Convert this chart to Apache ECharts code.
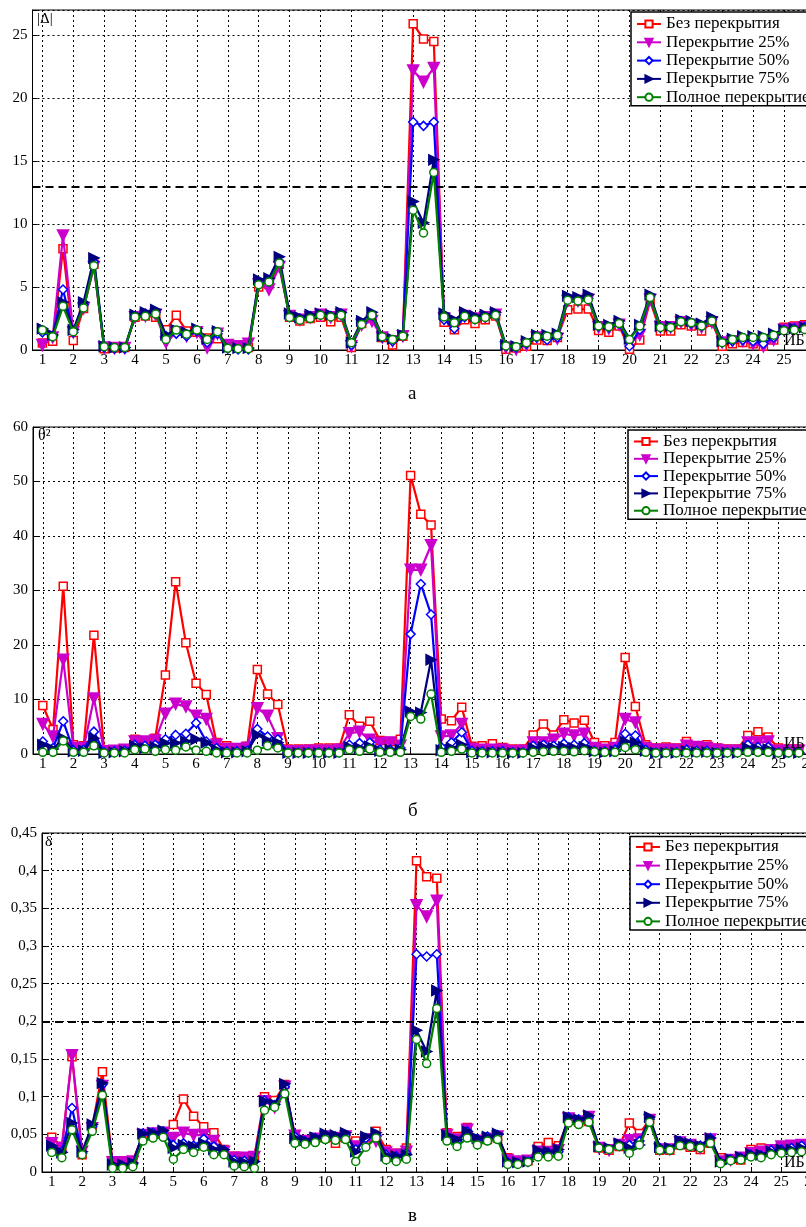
<!DOCTYPE html>
<html>
<head>
<meta charset="utf-8">
<script src="https://cdn.jsdelivr.net/npm/echarts@6/dist/echarts.min.js"></script>
<style>
html,body{margin:0;padding:0;background:#fff;}
#c{width:806px;height:1227px;}
</style>
</head>
<body>
<div id="c"></div>
<script>
// ---- categories (ИБ subdivisions) ----
const ibX = [1,1.333,1.667,2,2.333,2.667,3,3.333,3.667,4,4.333,4.667,5,5.333,5.667,
  6,6.333,6.667,7,7.333,7.667,8,8.333,8.667,9,9.333,9.667,10,10.333,10.667,
  11,11.333,11.667,12,12.333,12.667,13,13.333,13.667,14,14.333,14.667,15,15.333,15.667,
  16,16.333,16.667,17,17.333,17.667,18,18.333,18.667,19,19.333,19.667,20,20.333,20.667,
  21,21.333,21.667,22,22.333,22.667,23,23.333,23.667,24,24.333,24.667,25,25.333,25.667];
const ibTicks = [1,2,3,4,5,6,7,8,9,10,11,12,13,14,15,16,17,18,19,20,21,22,23,24,25,26];
const seriesNames = ['Без перекрытия','Перекрытие 25%','Перекрытие 50%','Перекрытие 75%','Полное перекрытие'];

// ---- panel а: |Δ| ----
const aRed = [0.55,0.7,8.05,0.75,3.3,6.8, 0.1,0.15,0.2,2.6,2.7,2.6, 1.6,2.75,1.5,1.4,0.95,0.9,
  0.35,0.35,0.2,5.0,5.2,6.8, 2.6,2.3,2.5,2.6,2.25,2.6, 0.2,2.1,2.6,1.0,0.4,1.1,
  25.9,24.7,24.5,2.2,1.6,2.4, 2.1,2.4,2.7,0.05,0.15,0.3, 0.8,0.75,1.0,3.2,3.25,3.25,
  1.55,1.4,1.9,0.05,0.8,3.9, 1.5,1.5,2.0,1.9,1.5,2.2, 0.3,0.5,0.6,0.5,0.3,0.8, 1.8,1.9,2.0];
const aMag = [0.4,1.0,9.1,1.4,3.3,6.6, 0.2,0.15,0.15,2.6,2.7,2.8, 0.6,1.4,1.1,1.4,0.2,1.3,
  0.4,0.3,0.5,5.2,4.8,6.6, 2.7,2.4,2.6,2.8,2.6,2.8, 0.3,2.0,2.3,1.0,0.7,1.1,
  22.2,21.3,22.4,2.5,2.0,2.7, 2.5,2.6,2.8,0.2,0.05,0.4, 1.0,0.9,0.9,3.9,3.9,4.0,
  1.8,1.7,2.0,0.5,1.2,4.0, 1.8,1.8,2.2,2.0,1.8,2.2, 0.6,0.7,0.7,0.5,0.3,0.8, 1.6,1.7,1.8];
const aBlue = [1.4,1.1,4.8,1.4,3.6,7.0, 0.2,0.1,0.1,2.7,2.9,3.0, 1.1,1.3,1.1,1.5,0.6,1.3,
  0.1,0.05,0.05,5.3,5.4,7.0, 2.7,2.5,2.7,2.8,2.7,2.9, 0.4,2.1,2.7,1.0,0.7,1.1,
  18.1,17.8,18.1,2.4,1.7,2.6, 2.5,2.6,2.8,0.3,0.2,0.5, 1.0,0.8,1.0,4.0,3.9,4.1,
  1.9,1.8,2.1,0.3,1.6,4.2, 1.8,1.8,2.3,2.1,1.9,2.4, 0.6,0.7,0.8,0.7,0.5,1.0, 1.6,1.7,1.8];
const aNavy = [1.7,1.2,3.8,1.6,3.8,7.3, 0.3,0.2,0.2,2.8,3.0,3.2, 1.2,1.6,1.4,1.7,0.9,1.5,
  0.2,0.15,0.15,5.6,5.7,7.4, 2.9,2.6,2.8,2.9,2.8,3.0, 0.6,2.3,3.0,1.1,0.9,1.2,
  11.8,10.1,15.1,2.9,2.4,3.0, 2.7,2.8,3.0,0.4,0.3,0.7, 1.2,1.2,1.3,4.3,4.2,4.4,
  2.0,2.0,2.3,0.9,2.0,4.4, 1.9,1.9,2.4,2.3,2.1,2.6, 0.7,0.9,1.1,1.1,1.1,1.3, 1.6,1.7,1.8];
const aGreen = [1.58,1.05,3.47,1.45,3.34,6.7, 0.26,0.2,0.2,2.63,2.68,2.85, 0.84,1.58,1.26,1.58,0.84,1.45,
  0.13,0.1,0.1,5.18,5.4,6.9, 2.58,2.37,2.5,2.76,2.63,2.76, 0.58,2.03,2.76,1.05,0.84,1.1,
  11.1,9.3,14.1,2.63,2.16,2.68, 2.42,2.58,2.76,0.32,0.26,0.58, 1.05,1.1,1.18,3.95,3.9,4.0,
  1.9,1.84,2.1,0.84,1.9,4.16, 1.79,1.79,2.24,2.16,1.9,2.3, 0.58,0.84,1.0,1.0,1.0,1.18, 1.53,1.58,1.63];
const aThreshold = 13;

// ---- panel б: θ² ----
const bRed = [8.9,4.5,30.8,1.7,1.5,21.8, 0.8,0.8,0.9,2.7,2.3,2.9, 14.5,31.6,20.4,13.0,10.9,2.1,
  1.5,1.1,1.4,15.5,11.0,9.1, 0.9,0.9,0.9,1.1,1.1,1.1, 7.2,5.1,6.0,2.5,2.3,2.7,
  51.1,44.0,42.0,6.4,6.1,8.6, 1.4,1.5,1.9,1.2,0.9,0.9, 3.5,5.5,3.5,6.3,5.7,6.2,
  2.1,1.5,2.1,17.7,8.7,1.7, 1.1,1.3,1.1,2.3,1.5,1.7, 1.1,0.9,0.9,3.4,4.1,3.1, 1.1,0.9,0.9];
const bMag = [5.5,3.2,17.3,1.1,1.1,10.2, 0.5,0.6,0.8,2.3,2.3,2.5, 7.4,9.2,8.7,7.0,6.4,1.7,
  0.9,0.9,1.1,8.4,7.0,2.9, 0.5,0.5,0.6,0.6,0.6,0.8, 3.8,4.1,2.6,2.0,2.1,1.5,
  33.8,33.8,38.3,3.2,3.4,5.5, 0.9,0.8,0.8,0.8,0.5,0.6, 2.1,2.1,2.6,3.7,3.4,3.7,
  1.1,0.8,1.1,6.4,5.8,1.1, 0.8,0.8,0.8,1.5,1.3,1.1, 0.8,0.6,0.6,2.1,2.1,2.3, 0.6,0.6,0.6];
const bBlue = [2.3,1.1,6.0,0.7,0.8,4.1, 0.3,0.5,0.6,1.7,1.5,1.7, 2.7,3.5,3.7,5.7,2.3,1.1,
  0.5,0.5,0.6,4.6,3.2,2.7, 0.3,0.3,0.3,0.3,0.3,0.3, 1.7,2.0,2.1,0.8,0.8,1.1,
  22.0,31.2,25.6,1.3,2.1,4.0, 0.6,0.5,0.5,0.5,0.3,0.3, 1.5,1.7,1.5,1.9,1.7,2.0,
  0.6,0.5,0.8,3.7,3.4,0.8, 0.3,0.3,0.3,0.8,0.6,0.6, 0.3,0.3,0.3,1.7,1.3,1.3, 0.3,0.3,0.3];
const bNavy = [1.7,0.9,2.9,0.5,0.6,2.9, 0.2,0.3,0.5,1.5,1.1,1.3, 2.0,2.0,2.3,2.7,2.1,0.8,
  0.3,0.3,0.5,3.5,2.5,2.1, 0.2,0.2,0.2,0.2,0.2,0.2, 1.3,1.1,1.4,0.6,0.8,0.8,
  7.8,7.6,17.3,0.7,1.1,1.7, 0.3,0.3,0.3,0.3,0.2,0.2, 1.1,1.3,1.1,1.3,1.1,1.3,
  0.5,0.3,0.5,2.3,2.1,0.6, 0.2,0.2,0.2,0.5,0.4,0.4, 0.2,0.2,0.2,1.1,0.9,0.9, 0.2,0.2,0.2];
const bGreen = [0.3,0.3,2.4,0.3,0.3,1.5, 0.2,0.2,0.2,0.8,0.9,0.5, 0.8,0.7,1.3,0.7,0.5,0.2,
  0.2,0.2,0.2,0.7,1.5,1.1, 0.2,0.2,0.2,0.2,0.2,0.2, 0.8,0.5,0.9,0.3,0.3,0.3,
  6.9,6.4,11.0,0.3,0.5,0.9, 0.2,0.2,0.2,0.2,0.2,0.2, 0.3,0.4,0.5,0.5,0.4,0.6,
  0.4,0.3,0.3,1.2,0.8,0.3, 0.2,0.2,0.2,0.2,0.2,0.2, 0.2,0.2,0.2,0.3,0.3,0.3, 0.2,0.2,0.2];

// ---- panel в: δ ----
const cRed = [0.046,0.034,0.153,0.023,0.060,0.133, 0.014,0.014,0.015,0.049,0.051,0.052,
  0.063,0.097,0.074,0.060,0.052,0.030, 0.021,0.020,0.021,0.100,0.095,0.116,
  0.049,0.041,0.043,0.045,0.038,0.045, 0.041,0.045,0.054,0.030,0.025,0.032,
  0.413,0.392,0.390,0.052,0.047,0.059, 0.043,0.043,0.045,0.019,0.015,0.015,
  0.034,0.039,0.035,0.069,0.066,0.067, 0.032,0.029,0.034,0.065,0.051,0.069,
  0.029,0.029,0.036,0.033,0.030,0.038, 0.019,0.017,0.016,0.030,0.032,0.030, 0.033,0.035,0.037];
const cMag = [0.038,0.032,0.155,0.027,0.058,0.114, 0.013,0.013,0.014,0.049,0.051,0.052,
  0.045,0.052,0.049,0.049,0.041,0.027, 0.019,0.019,0.020,0.094,0.086,0.113,
  0.048,0.041,0.044,0.047,0.045,0.047, 0.034,0.043,0.041,0.026,0.023,0.027,
  0.354,0.339,0.360,0.049,0.043,0.056, 0.041,0.044,0.047,0.016,0.014,0.015,
  0.027,0.026,0.029,0.071,0.067,0.073, 0.032,0.029,0.036,0.042,0.043,0.069,
  0.030,0.030,0.039,0.036,0.032,0.043, 0.014,0.016,0.019,0.025,0.027,0.029, 0.034,0.035,0.036];
const cBlue = [0.032,0.027,0.085,0.025,0.060,0.116, 0.008,0.008,0.010,0.051,0.052,0.054,
  0.036,0.038,0.035,0.044,0.034,0.029, 0.016,0.015,0.014,0.095,0.089,0.113,
  0.047,0.041,0.045,0.049,0.047,0.049, 0.030,0.045,0.049,0.023,0.021,0.025,
  0.289,0.286,0.289,0.046,0.041,0.054, 0.044,0.047,0.049,0.013,0.012,0.014,
  0.025,0.026,0.027,0.073,0.070,0.073, 0.033,0.030,0.036,0.036,0.041,0.070,
  0.032,0.030,0.041,0.037,0.035,0.045, 0.013,0.017,0.019,0.023,0.022,0.029, 0.030,0.032,0.035];
const cNavy = [0.035,0.026,0.065,0.027,0.063,0.118, 0.010,0.010,0.012,0.051,0.052,0.055,
  0.032,0.036,0.034,0.038,0.030,0.030, 0.014,0.013,0.014,0.094,0.090,0.117,
  0.045,0.042,0.046,0.051,0.049,0.052, 0.027,0.047,0.052,0.022,0.021,0.023,
  0.188,0.160,0.241,0.049,0.043,0.054, 0.045,0.047,0.051,0.014,0.013,0.014,
  0.029,0.027,0.030,0.073,0.070,0.075, 0.034,0.032,0.038,0.032,0.036,0.073,
  0.033,0.032,0.042,0.038,0.035,0.045, 0.014,0.017,0.020,0.024,0.023,0.027, 0.030,0.030,0.032];
const cGreen = [0.026,0.019,0.056,0.023,0.054,0.102, 0.005,0.005,0.007,0.041,0.045,0.046,
  0.017,0.030,0.026,0.033,0.023,0.023, 0.008,0.007,0.005,0.082,0.086,0.104,
  0.038,0.037,0.039,0.043,0.042,0.043, 0.014,0.033,0.045,0.016,0.014,0.017,
  0.176,0.144,0.217,0.041,0.034,0.045, 0.036,0.041,0.043,0.010,0.010,0.013,
  0.020,0.020,0.021,0.065,0.063,0.066, 0.032,0.030,0.034,0.025,0.036,0.066,
  0.029,0.029,0.035,0.034,0.032,0.038, 0.011,0.015,0.016,0.020,0.019,0.023, 0.025,0.026,0.027];
const cThreshold = 0.2;

const panelData = [
  [aRed, aMag, aBlue, aNavy, aGreen],
  [bRed, bMag, bBlue, bNavy, bGreen],
  [cRed, cMag, cBlue, cNavy, cGreen]
];
const thresholds = [aThreshold, null, cThreshold];

// ---- styles ----
const FONT = "'Liberation Serif','Times New Roman',serif";
const X_MIN = 0.68, X_MAX = 26.6;
const layout = [
  {left: 32.5, top: 10, height: 340, unit: 30.9, yMax: 27, yInt: 5},
  {left: 33, top: 427, height: 327, unit: 30.65, yMax: 60, yInt: 10},
  {left: 42, top: 833, height: 339, unit: 30.4, yMax: 0.45, yInt: 0.05}
];
const legendPos = [
  {left: 631, top: 12, gap: 1.3, pad: [3.5,5,0,5]},
  {left: 628, top: 430, gap: 0.3, pad: [3,5,0,5]},
  {left: 630, top: 836.5, gap: 1.6, pad: [2,5,0,5]}
];
const marks = [
  {color: '#ff0000', fill: '#ffffff', symbol: 'rect', size: 8},
  {color: '#cc00cc', fill: '#cc00cc', symbol: 'path://M0,0L10,0L5,9Z', size: 11},
  {color: '#0000ff', fill: '#ffffff', symbol: 'diamond', size: 9},
  {color: '#00007f', fill: '#00007f', symbol: 'path://M0,0L9,5L0,10Z', size: 10},
  {color: '#008000', fill: '#ffffff', symbol: 'circle', size: 8}
];

function yFmt(gi) {
  return function (v) {
    const step = layout[gi].yInt;
    const k = v / step;
    if (Math.abs(k - Math.round(k)) > 1e-6) return '';
    if (gi === 0 && v > 25.001) return '';
    if (gi === 2) {
      const r = Math.round(v * 100) / 100;
      return r === 0 ? '0' : String(r).replace('.', ',');
    }
    return String(Math.round(v));
  };
}

const grid = [], xAxis = [], yAxis = [], series = [], legend = [];
layout.forEach((g, gi) => {
  grid.push({left: g.left, top: g.top, height: g.height, width: (X_MAX - X_MIN) * g.unit,
    show: true, borderColor: '#000', borderWidth: 1, containLabel: false, outerBoundsMode: 'none'});
  xAxis.push({type: 'value', gridIndex: gi, min: X_MIN, max: X_MAX, interval: 1,
    axisLine: {show: true, onZero: false, lineStyle: {color: '#000', width: 1}},
    axisTick: {show: true, inside: true, length: 5, customValues: ibTicks, lineStyle: {color: '#000'}},
    axisLabel: {show: true, customValues: ibTicks, margin: 3, color: '#000', fontFamily: FONT, fontSize: 15,
      formatter: v => String(Math.round(v))},
    splitLine: {show: true, lineStyle: {color: '#000', type: [2, 3], width: 1}}
  });
  yAxis.push({type: 'value', gridIndex: gi, min: 0, max: g.yMax, interval: g.yInt,
    axisLine: {show: true, lineStyle: {color: '#000', width: 1}},
    axisTick: {show: true, inside: true, length: 5, lineStyle: {color: '#000'}},
    axisLabel: {show: true, margin: 5, color: '#000', fontFamily: FONT, fontSize: 15, formatter: yFmt(gi)},
    splitLine: {show: true, lineStyle: {color: '#000', type: [2, 3], width: 1}}
  });
  panelData[gi].forEach((arr, si) => {
    const m = marks[si];
    const s = {
      type: 'line', name: seriesNames[si], xAxisIndex: gi, yAxisIndex: gi,
      data: ibX.map((x, i) => [x, arr[i]]),
      symbol: m.symbol, symbolSize: m.size, showSymbol: true,
      lineStyle: {color: m.color, width: 2.2},
      itemStyle: {color: m.fill, borderColor: m.color, borderWidth: 1.5},
      emphasis: {disabled: true}, z: 2 + si, animation: false
    };
    if (si === 0 && thresholds[gi] !== null) {
      s.markLine = {silent: true, symbol: 'none', label: {show: false}, animation: false,
        lineStyle: {color: '#000', type: [8, 5], width: 2},
        data: [{yAxis: thresholds[gi]}]};
    }
    series.push(s);
  });
  const lp = legendPos[gi];
  legend.push({orient: 'vertical', left: lp.left, top: lp.top, padding: lp.pad, itemGap: lp.gap,
    itemWidth: 24, itemHeight: 9, backgroundColor: '#fff', borderColor: '#000', borderWidth: 1.5,
    borderRadius: 0, data: seriesNames, selectedMode: false,
    textStyle: {fontFamily: FONT, fontSize: 17, lineHeight: 16.5, color: '#000'}});
});

const txt = (left, top, text, size) => ({type: 'text', left, top, z: 100,
  style: {text, fontFamily: FONT, fontSize: size, fill: '#000'}});

const option = {
  animation: false,
  backgroundColor: '#fff',
  grid, xAxis, yAxis, series, legend,
  graphic: [
    txt(37, 12, '|Δ|', 15),
    txt(38, 428, 'θ²', 16),
    txt(45, 835, 'δ', 15),
    txt(784, 333, 'ИБ', 16),
    txt(784, 736, 'ИБ', 16),
    txt(784, 1155, 'ИБ', 16),
    txt(408, 385, 'а', 19),
    txt(408, 802, 'б', 19),
    txt(408, 1207, 'в', 19)
  ]
};

const chart = echarts.init(document.getElementById('c'), null, {renderer: 'canvas'});
chart.setOption(option);
</script>
</body>
</html>
